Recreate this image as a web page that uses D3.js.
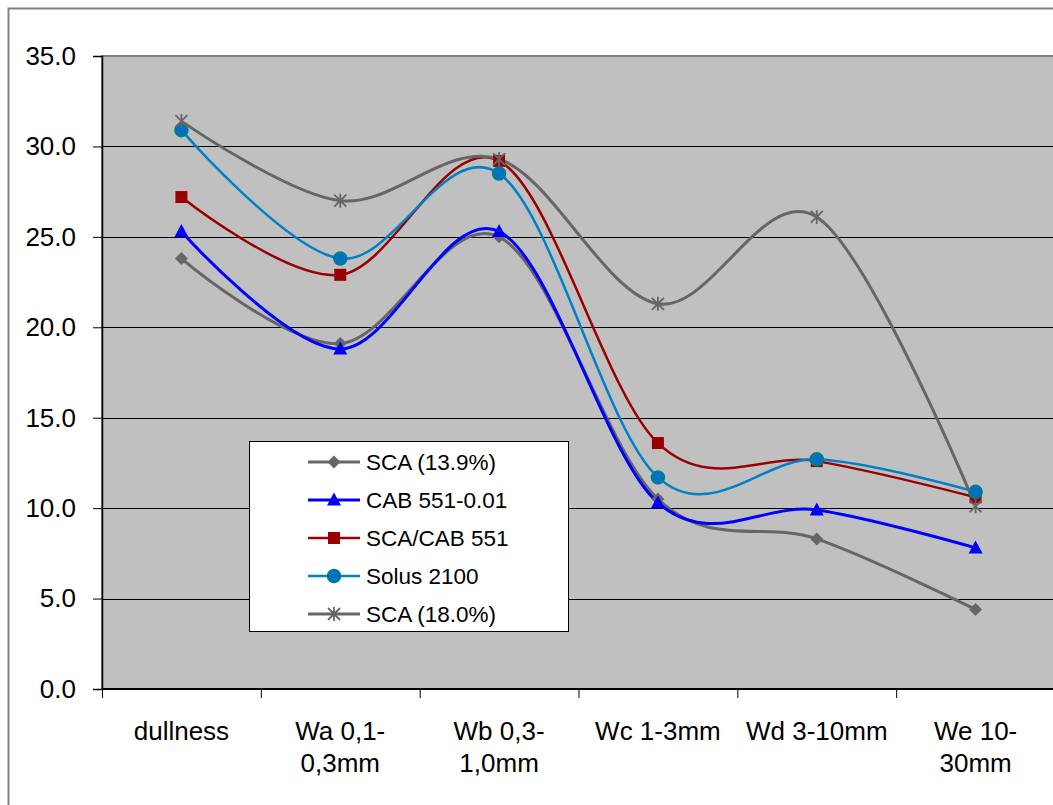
<!DOCTYPE html>
<html>
<head>
<meta charset="utf-8">
<script src="https://cdn.jsdelivr.net/npm/d3@7"></script>
<style>
  html, body { margin: 0; padding: 0; background: #fff; overflow: hidden; }
  svg { display: block; font-family: "Liberation Sans", Arial, sans-serif; }
</style>
</head>
<body>
<svg width="1053" height="805"></svg>
<script>
const categories = ["dullness", "Wa 0,1-\n0,3mm", "Wb 0,3-\n1,0mm", "Wc 1-3mm", "Wd 3-10mm", "We 10-\n30mm"]
const seriesNames = ["SCA (13.9%)", "CAB 551-0.01", "SCA/CAB 551", "Solus 2100", "SCA (18.0%)"]
const sca139 = [23.8, 19.1, 25.0, 10.5, 8.3, 4.4]
const cab551 = [25.3, 18.8, 25.3, 10.3, 9.9, 7.8]
const scaCab = [27.2, 22.9, 29.2, 13.6, 12.6, 10.6]
const solus = [30.9, 23.8, 28.5, 11.7, 12.7, 10.9]
const sca180 = [31.4, 27.0, 29.3, 21.3, 26.1, 10.1]
const yTicks = [0, 5, 10, 15, 20, 25, 30, 35]

const series = [
  { name: seriesNames[0], values: sca139, color: "#666666", fill: "#666666", marker: "diamond", width: 3 },
  { name: seriesNames[1], values: cab551, color: "#0000ff", fill: "#0000ff", marker: "triangle", width: 3 },
  { name: seriesNames[2], values: scaCab, color: "#990000", fill: "#990000", marker: "square", width: 2.5 },
  { name: seriesNames[3], values: solus, color: "#0080c8", fill: "#0070c0", marker: "circle", width: 2.5 },
  { name: seriesNames[4], values: sca180, color: "#666666", fill: "#666666", marker: "star", width: 3 }
]

const svg = d3.select("svg")

// chart area border (runs off the picture on the right and bottom)
svg.append("rect")
  .attr("x", 8.5).attr("y", 8.5)
  .attr("width", 1200).attr("height", 900)
  .attr("fill", "#fff").attr("stroke", "#808080").attr("stroke-width", 2)

const plot = { left: 102, top: 56, right: 1055, bottom: 689 }

const x = d3.scaleBand()
  .domain(categories)
  .range([plot.left, plot.right])

const y = d3.scaleLinear()
  .domain([0, 35])
  .range([plot.bottom, plot.top])

// plot area
svg.append("rect")
  .attr("x", plot.left).attr("y", plot.top)
  .attr("width", 1200).attr("height", plot.bottom - plot.top)
  .attr("fill", "#c0c0c0").attr("stroke", "#808080").attr("stroke-width", 2)

// gridlines
svg.append("g")
  .selectAll("line")
  .data(yTicks.filter(d => d > 0 && d < 35))
  .enter().append("line")
  .attr("x1", plot.left).attr("x2", 1100)
  .attr("y1", d => Math.round(y(d)) + 0.5).attr("y2", d => Math.round(y(d)) + 0.5)
  .attr("stroke", "#000").attr("stroke-width", 1)

// y axis
const yAxis = svg.append("g")
  .attr("transform", `translate(${plot.left},0)`)
  .call(d3.axisLeft(y).tickValues(yTicks).tickFormat(d3.format(".1f")).tickSize(9).tickPadding(17))
yAxis.select(".domain").attr("stroke", "#000").attr("stroke-width", 1.5)
yAxis.selectAll(".tick line").attr("stroke", "#000")
yAxis.selectAll("text")
  .attr("font-family", "'Liberation Sans', Arial, sans-serif")
  .attr("font-size", 26).attr("fill", "#000")

// x axis
const xAxis = svg.append("g")
  .attr("transform", `translate(0,${plot.bottom})`)
xAxis.append("line")
  .attr("x1", plot.left).attr("x2", 1100)
  .attr("y1", 0).attr("y2", 0)
  .attr("stroke", "#000").attr("stroke-width", 2)
xAxis.selectAll("line.tk")
  .data(categories)
  .enter().append("line")
  .attr("class", "tk")
  .attr("x1", d => x(d) + 0.5).attr("x2", d => x(d) + 0.5)
  .attr("y1", 0).attr("y2", 9)
  .attr("stroke", "#000")

const labels = xAxis.selectAll("text.lbl")
  .data(categories)
  .enter().append("text")
  .attr("class", "lbl")
  .attr("text-anchor", "middle")
  .attr("font-size", 26)
  .attr("fill", "#000")
  .attr("transform", d => `translate(${x(d) + x.bandwidth() / 2},51)`)
labels.selectAll("tspan")
  .data(d => d.split("\n"))
  .enter().append("tspan")
  .attr("x", 0)
  .attr("y", (d, i) => i * 32)
  .text(d => d)

// lines
const line = d3.line()
  .x((d, i) => x(categories[i]) + x.bandwidth() / 2)
  .y(d => y(d))
  .curve(d3.curveCardinal.tension(0))

svg.append("g")
  .selectAll("path")
  .data(series)
  .enter().append("path")
  .attr("d", d => line(d.values))
  .attr("fill", "none")
  .attr("stroke", d => d.color)
  .attr("stroke-width", d => d.width)

// markers
const drawMarker = function (g, s) {
  if (s.marker === "diamond") {
    g.append("path").attr("d", "M0,-6.5L6.5,0L0,6.5L-6.5,0Z").attr("fill", s.fill)
  } else if (s.marker === "triangle") {
    g.append("path").attr("d", "M0,-7.5L7,5.5L-7,5.5Z").attr("fill", s.fill)
  } else if (s.marker === "square") {
    g.append("rect").attr("x", -6).attr("y", -6).attr("width", 12).attr("height", 12).attr("fill", s.fill)
  } else if (s.marker === "circle") {
    g.append("circle").attr("r", 6.5).attr("fill", s.fill).attr("stroke", "#008080").attr("stroke-width", 1.5)
  } else if (s.marker === "star") {
    g.append("path").attr("d", "M-6,-6L6,6M6,-6L-6,6M0,-7L0,7")
      .attr("stroke", s.fill).attr("stroke-width", 1.8).attr("fill", "none")
  }
}

series.forEach(s => {
  const grp = svg.append("g")
  s.values.forEach((v, i) => {
    const g = grp.append("g")
      .attr("transform", `translate(${x(categories[i]) + x.bandwidth() / 2},${y(v)})`)
    drawMarker(g, s)
  })
})

// legend
const legend = svg.append("g").attr("transform", "translate(249,441)")
legend.append("rect")
  .attr("x", 0.5).attr("y", 0.5)
  .attr("width", 319).attr("height", 190)
  .attr("fill", "#fff").attr("stroke", "#000").attr("stroke-width", 1)

series.forEach((s, i) => {
  const row = legend.append("g").attr("transform", `translate(0,${21 + i * 38})`)
  row.append("line")
    .attr("x1", 59).attr("x2", 111)
    .attr("stroke", s.color).attr("stroke-width", s.width)
  drawMarker(row.append("g").attr("transform", "translate(85,0)"), s)
  row.append("text")
    .attr("x", 117).attr("y", 8)
    .attr("font-size", 22.5).attr("fill", "#000")
    .text(s.name)
})
</script>
</body>
</html>
